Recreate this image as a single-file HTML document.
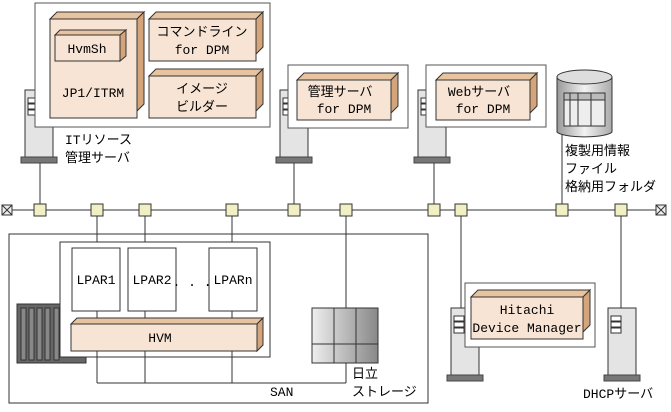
<!DOCTYPE html>
<html><head><meta charset="utf-8"><style>
body{margin:0;background:#fff}
text{font-family:"Liberation Mono","Noto Sans CJK JP",monospace;font-size:13px;fill:#000}
</style></head><body>
<svg width="671" height="407" viewBox="0 0 671 407" xmlns="http://www.w3.org/2000/svg">
<defs>
<linearGradient id="cyl" x1="0" x2="1"><stop offset="0" stop-color="#999"/><stop offset=".5" stop-color="#f2f2f2"/><stop offset="1" stop-color="#aaa"/></linearGradient>
<linearGradient id="st" x1="0" x2="1"><stop offset="0" stop-color="#eee"/><stop offset="1" stop-color="#888"/></linearGradient>
<g id="tower"><rect x="0" y="0" width="28" height="68" fill="#e4e4e4" stroke="#333"/><rect x="3" y="8" width="10" height="5" fill="#fff" stroke="#333"/><rect x="3" y="14" width="10" height="5" fill="#fff" stroke="#333"/><rect x="3" y="20" width="10" height="5" fill="#fff" stroke="#333"/><rect x="-4" y="67" width="36" height="6" fill="#777" stroke="#444"/></g>
</defs>
<g stroke="#333" fill="none">
<!-- bus -->
<line x1="12" y1="210" x2="656" y2="210"/>
<line x1="40" y1="160" x2="40" y2="210"/><line x1="294" y1="160" x2="294" y2="210"/><line x1="434" y1="160" x2="434" y2="210"/><line x1="562" y1="134" x2="562" y2="210"/>
<line x1="97" y1="210" x2="97" y2="383"/><line x1="145" y1="210" x2="145" y2="383"/><line x1="232" y1="210" x2="232" y2="383"/><line x1="346" y1="210" x2="346" y2="383"/><line x1="97" y1="383" x2="346" y2="383"/>
<line x1="461" y1="210" x2="461" y2="310"/><line x1="621" y1="210" x2="621" y2="310"/>
</g>
<g fill="#f0f0c4" stroke="#333">
<rect x="34" y="204" width="12" height="12"/><rect x="91" y="204" width="12" height="12"/><rect x="139" y="204" width="12" height="12"/><rect x="226" y="204" width="12" height="12"/><rect x="288" y="204" width="12" height="12"/><rect x="340" y="204" width="12" height="12"/><rect x="428" y="204" width="12" height="12"/><rect x="455" y="204" width="12" height="12"/><rect x="556" y="204" width="12" height="12"/><rect x="615" y="204" width="12" height="12"/>
</g>
<g fill="#eee" stroke="#333"><rect x="2" y="205" width="10" height="10"/><rect x="656" y="205" width="10" height="10"/></g>
<path d="M2 205l10 10M12 205l-10 10M656 205l10 10M666 205l-10 10" stroke="#333"/>

<!-- towers -->
<use href="#tower" x="25" y="90"/><use href="#tower" x="280" y="90"/><use href="#tower" x="418" y="90"/>
<use href="#tower" x="451" y="308"/><use href="#tower" x="608" y="308"/>

<!-- top box -->
<rect x="35" y="3" width="235" height="124" fill="#fff" stroke="#555"/>
<g stroke="#333">
<path d="M50 19l7-7h87l-7 7z" fill="#e8c3a0"/><path d="M137 19l7-7v92l-7 7z" fill="#d4a57a"/><rect x="50" y="19" width="87" height="99" fill="#f7e4d4"/>
<path d="M55 35l5-5h66l-6 5z" fill="#e8c3a0"/><path d="M120 35l6-5v26l-6 5z" fill="#d4a57a"/><rect x="55" y="35" width="65" height="26" fill="#f7e4d4"/>
<path d="M149 19l7-7h107l-7 7z" fill="#e8c3a0"/><path d="M256 19l7-7v35l-7 7z" fill="#d4a57a"/><rect x="149" y="19" width="107" height="42" fill="#f7e4d4"/>
<path d="M149 76l7-7h107l-7 7z" fill="#e8c3a0"/><path d="M256 76l7-7v35l-7 7z" fill="#d4a57a"/><rect x="149" y="76" width="107" height="42" fill="#f7e4d4"/>
</g>
<text x="87" y="53" text-anchor="middle">HvmSh</text>
<text x="93" y="97" text-anchor="middle">JP1/ITRM</text>
<text x="202" y="36" text-anchor="middle">コマンドライン</text><text x="202" y="54" text-anchor="middle">for DPM</text>
<text x="202" y="93" text-anchor="middle">イメージ</text><text x="202" y="111" text-anchor="middle">ビルダー</text>
<text x="65" y="144">ITリソース</text><text x="65" y="162">管理サーバ</text>

<!-- mgmt server -->
<rect x="288" y="65" width="120" height="63" fill="#fff" stroke="#555"/>
<g stroke="#333"><path d="M297 80l7-7h94l-7 7z" fill="#e8c3a0"/><path d="M391 80l7-7v33l-7 7z" fill="#d4a57a"/><rect x="297" y="80" width="94" height="40" fill="#f7e4d4"/></g>
<text x="340" y="96" text-anchor="middle">管理サーバ</text><text x="344" y="113" text-anchor="middle">for DPM</text>
<rect x="426" y="65" width="120" height="62" fill="#fff" stroke="#555"/>
<g stroke="#333"><path d="M436 80l7-7h94l-7 7z" fill="#e8c3a0"/><path d="M530 80l7-7v33l-7 7z" fill="#d4a57a"/><rect x="436" y="80" width="94" height="40" fill="#f7e4d4"/></g>
<text x="479" y="96" text-anchor="middle">Webサーバ</text><text x="483" y="113" text-anchor="middle">for DPM</text>

<!-- cylinder -->
<path d="M557 77v55a28 6 0 0 0 55 0v-55" fill="url(#cyl)" stroke="#333"/>
<ellipse cx="584.5" cy="77" rx="27.5" ry="7" fill="#ddd" stroke="#333"/>
<g stroke="#333"><rect x="564" y="93" width="41" height="33" fill="#eee"/><rect x="564" y="93" width="41" height="7" fill="#bbb"/><line x1="570" y1="93" x2="570" y2="126"/><line x1="578" y1="93" x2="578" y2="126"/><line x1="591" y1="93" x2="591" y2="126"/></g>
<text x="565" y="155">複製用情報</text><text x="565" y="173">ファイル</text><text x="565" y="191">格納用フォルダ</text>

<!-- bottom box -->
<rect x="9" y="234" width="419" height="169" fill="none" stroke="#333"/>
<g stroke="#333"><rect x="17" y="304" width="69" height="59" fill="#666"/>
<rect x="21" y="308" width="5" height="52" fill="#888"/><rect x="29" y="308" width="5" height="52" fill="#888"/><rect x="37" y="308" width="5" height="52" fill="#888"/><rect x="45" y="308" width="5" height="52" fill="#888"/><rect x="54" y="308" width="5" height="52" fill="#888"/></g>
<rect x="60" y="242" width="210" height="115" fill="#fff" stroke="#333"/>
<g stroke="#333" fill="#fff"><rect x="72" y="248" width="48" height="63"/><rect x="128" y="248" width="48" height="63"/><rect x="209" y="248" width="48" height="63"/></g>
<line x1="97" y1="311" x2="97" y2="383" stroke="#333"/><line x1="145" y1="311" x2="145" y2="383" stroke="#333"/><line x1="232" y1="311" x2="232" y2="383" stroke="#333"/>
<text x="96" y="284" text-anchor="middle">LPAR1</text><text x="152" y="284" text-anchor="middle">LPAR2</text><text x="233" y="284" text-anchor="middle">LPARn</text>
<text x="192" y="286" text-anchor="middle">. . .</text>
<g stroke="#333"><path d="M71 324l6-6h186l-6 6z" fill="#e8c3a0"/><path d="M257 324l6-6v27l-6 6z" fill="#d4a57a"/><rect x="71" y="324" width="186" height="27" fill="#f7e4d4"/></g>
<text x="160" y="342" text-anchor="middle">HVM</text>
<text x="270" y="396">SAN</text>
<g stroke="#333"><rect x="312" y="308" width="66" height="55" fill="url(#st)"/><line x1="312" y1="344" x2="378" y2="344"/><line x1="334" y1="308" x2="334" y2="363"/><line x1="356" y1="308" x2="356" y2="363"/></g>
<text x="352" y="378">日立</text><text x="352" y="396">ストレージ</text>

<!-- HDM -->
<rect x="465" y="283" width="130" height="64" fill="#fff" stroke="#555"/>
<g stroke="#333"><path d="M471 297l7-7h112l-7 7z" fill="#e8c3a0"/><path d="M583 297l7-7v35l-7 7z" fill="#d4a57a"/><rect x="471" y="297" width="112" height="42" fill="#f7e4d4"/></g>
<text x="527" y="314" text-anchor="middle">Hitachi</text><text x="527" y="332" text-anchor="middle">Device Manager</text>
<text x="583" y="398">DHCPサーバ</text>
</svg>
</body></html>
